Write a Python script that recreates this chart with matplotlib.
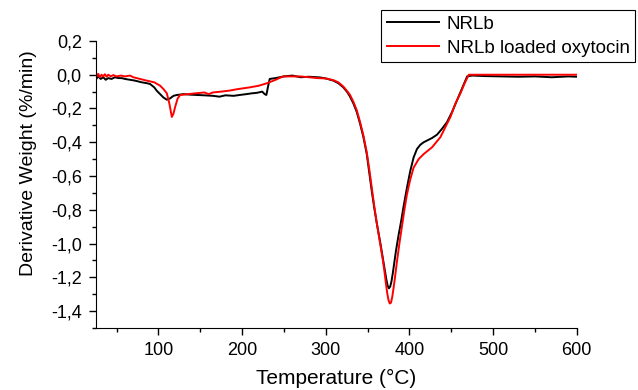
import numpy as np
import matplotlib.pyplot as plt
from matplotlib.ticker import MultipleLocator, FuncFormatter

plt.rcParams['font.family'] = ['Liberation Sans', 'DejaVu Sans']

# NRLb (black)
T_nrlb = [25, 28, 31, 34, 37, 40, 44, 48, 52, 56, 60, 66, 72, 80, 86, 90, 95, 98,
          102, 106, 110, 114, 118, 122, 130, 138, 146, 155, 165, 173, 180, 190, 197,
          205, 212, 218, 224, 227, 229, 231, 233, 240, 250, 260, 270, 280, 293, 300,
          309, 315, 321, 326, 329, 333, 337, 341, 345, 349, 352, 355, 358, 361, 365,
          369, 371, 372.5, 374, 375.5, 377, 378.5, 380, 382, 384, 387, 390, 393, 397,
          401, 405, 409, 413, 417, 421, 427, 433, 439, 445, 451, 457, 463, 469, 475,
          490, 510, 530, 550, 570, 590, 600]
dw_nrlb = [-0.03, -0.01, -0.025, -0.015, -0.03, -0.02, -0.025, -0.015, -0.02, -0.02,
           -0.025, -0.03, -0.035, -0.045, -0.05, -0.055, -0.075, -0.095, -0.115, -0.135,
           -0.148, -0.14, -0.125, -0.12, -0.115, -0.118, -0.12, -0.122, -0.125, -0.13,
           -0.122, -0.125, -0.12, -0.115, -0.11, -0.107, -0.10, -0.115, -0.12, -0.07,
           -0.025, -0.02, -0.01, -0.005, -0.015, -0.012, -0.016, -0.022, -0.035, -0.05,
           -0.075, -0.105, -0.13, -0.17, -0.22, -0.29, -0.37, -0.47, -0.58, -0.69, -0.79,
           -0.88, -0.99, -1.11, -1.17, -1.215, -1.25, -1.265, -1.255, -1.225, -1.18,
           -1.11, -1.04, -0.95, -0.87, -0.78, -0.67, -0.57, -0.49, -0.44, -0.415, -0.40,
           -0.39, -0.375, -0.355, -0.32, -0.28, -0.22, -0.15, -0.08, -0.01, -0.005,
           -0.008, -0.01, -0.012, -0.01, -0.015, -0.01, -0.012]

# NRLb loaded oxytocin (red)
T_oxy = [25, 26, 28, 30, 32, 34, 36, 38, 40, 43, 46, 50, 55, 60, 66, 70, 78, 86, 95,
         102, 106, 110, 113, 116, 118, 120, 123, 126, 135, 145, 155, 160, 165, 175, 185,
         195, 209, 220, 230, 240, 249, 260, 269, 280, 290, 300, 309, 315, 321, 326, 329,
         333, 337, 341, 345, 349, 352, 355, 358, 361, 365, 368, 370, 372, 373.5, 375,
         376.5, 378, 379.5, 381, 383, 385, 388, 391, 394, 397, 401, 405, 411, 417, 422,
         427, 432, 437, 443, 449, 455, 461, 466, 471, 480, 500, 520, 540, 560, 580, 600]
dw_oxy = [0.03, -0.01, 0.005, -0.015, 0.0, -0.01, 0.003, -0.012, 0.0, -0.01, -0.002,
          -0.01, -0.005, -0.01, -0.005, -0.015, -0.025, -0.035, -0.045, -0.065, -0.085,
          -0.11, -0.17, -0.25, -0.23, -0.19, -0.14, -0.12, -0.115, -0.11, -0.105, -0.115,
          -0.105, -0.10, -0.094, -0.085, -0.075, -0.065, -0.05, -0.03, -0.01, -0.01,
          -0.01, -0.015, -0.02, -0.022, -0.032, -0.045, -0.07, -0.10, -0.12, -0.16, -0.21,
          -0.28, -0.36, -0.46, -0.56, -0.67, -0.78, -0.88, -1.0, -1.09, -1.16, -1.24,
          -1.295, -1.335, -1.355, -1.35, -1.315, -1.265, -1.19, -1.11, -1.0, -0.9, -0.8,
          -0.71, -0.62, -0.55, -0.5, -0.47, -0.45, -0.43, -0.40, -0.37, -0.31, -0.25,
          -0.17, -0.11, -0.05, 0.0, 0.0, 0.0, 0.0, 0.0, 0.0, 0.0, 0.0]

fig = plt.figure(figsize=(6.38, 3.9), dpi=100)
ax = fig.add_axes([0.150, 0.159, 0.754, 0.736])

ax.plot(T_nrlb, dw_nrlb, color='black', lw=1.4, label='NRLb')
ax.plot(T_oxy, dw_oxy, color='red', lw=1.4, label='NRLb loaded oxytocin')

ax.set_xlim(25, 600)
ax.set_ylim(-1.5, 0.2)
ax.spines['top'].set_visible(False)
ax.spines['right'].set_visible(False)

ax.xaxis.set_major_locator(MultipleLocator(100))
ax.xaxis.set_minor_locator(MultipleLocator(50))
ax.yaxis.set_major_locator(MultipleLocator(0.2))
ax.yaxis.set_minor_locator(MultipleLocator(0.1))
ax.yaxis.set_major_formatter(FuncFormatter(lambda v, p: ('%.1f' % v).replace('.', ',')))
ax.tick_params(which='major', direction='out', length=5, width=1, labelsize=13, pad=5)
ax.tick_params(which='minor', direction='out', length=3, width=1)

ax.set_xlabel('Temperature (°C)', fontsize=15, labelpad=7)
ax.set_ylabel('Derivative Weight (%/min)', fontsize=14)
ax.yaxis.set_label_coords(-0.123, 0.575)

leg = fig.legend(loc='upper right', bbox_to_anchor=(0.996, 0.974), fontsize=13.5,
                 fancybox=False, edgecolor='black', framealpha=1,
                 handlelength=2.8, handletextpad=0.4, borderpad=0.3,
                 labelspacing=0.35, borderaxespad=0)
leg.get_frame().set_linewidth(0.8)

plt.savefig('out.png', dpi=100)
